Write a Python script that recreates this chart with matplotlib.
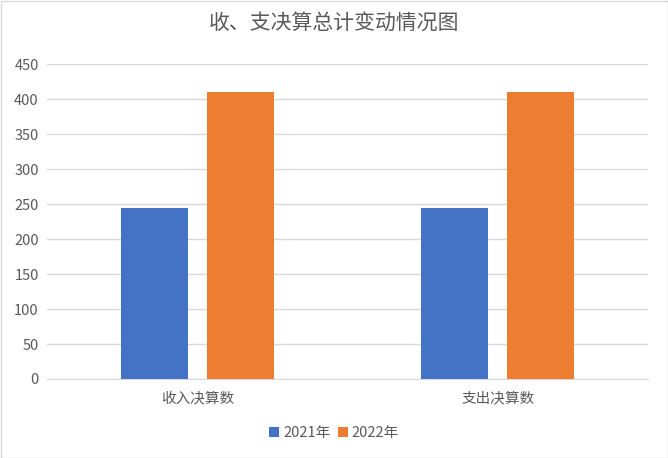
import matplotlib
matplotlib.use("Agg")
import matplotlib.pyplot as plt
import numpy as np

plt.rcParams["font.family"] = ["Noto Sans CJK SC", "DejaVu Sans"]

categories = ["收入决算数", "支出决算数"]
series_names = ["2021年", "2022年"]
values_2021 = [244.3, 244.3]
values_2022 = [410.0, 410.0]
colors = ["#4472C4", "#ED7D31"]

fig = plt.figure(figsize=(6.68, 4.58), dpi=100)
ax = fig.add_axes([0.0704, 0.1725, 0.8996, 0.6871])

x = np.arange(len(categories))
w = 0.223
off = 0.143
ax.bar(x - off, values_2021, w, color=colors[0], label=series_names[0], zorder=3)
ax.bar(x + off, values_2022, w, color=colors[1], label=series_names[1], zorder=3)

ax.set_xlim(-0.5, 1.5)
ax.set_ylim(0, 450)
ax.set_yticks(range(0, 451, 50))
ax.yaxis.grid(True, color="#D9D9D9", lw=1, zorder=0)
ax.set_xticks(x)
ax.set_xticklabels(categories)
ax.tick_params(axis="both", length=0, labelsize=10.5, colors="#595959", pad=6)
ax.tick_params(axis="x", pad=9)
for s in ["top", "right", "left"]:
    ax.spines[s].set_visible(False)
ax.spines["bottom"].set_color("#D9D9D9")

fig.text(0.5, 0.948, "收、支决算总计变动情况图", ha="center", va="center",
         fontsize=15, color="#595959")
fig.legend(loc="center", bbox_to_anchor=(0.5, 0.054), ncol=2, frameon=False,
           fontsize=10.5, handlelength=0.7, handleheight=0.7, columnspacing=0.5,
           handletextpad=0.25, labelcolor="#595959")

fig.patches.append(plt.Rectangle((0.5 / 668, 0.5 / 458), 1 - 1 / 668, 1 - 1 / 458,
                                 transform=fig.transFigure, fill=False,
                                 edgecolor="#D9D9D9", lw=1))
fig.savefig("out.png", dpi=100)
